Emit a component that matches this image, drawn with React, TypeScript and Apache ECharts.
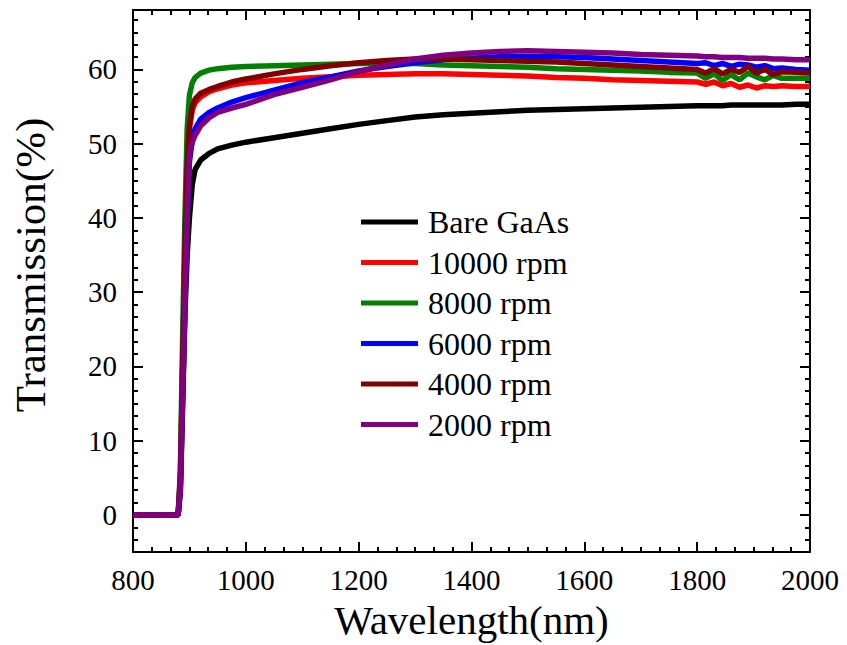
import React, { useEffect, useRef } from "react";
import * as echarts from "echarts";

const FONT = "'Liberation Serif', 'Times New Roman', serif";

const wavelengths = [
  800, 850, 880, 884, 888, 892, 896, 900, 905, 910, 920, 935, 950, 975, 1000,
  1050, 1100, 1150, 1200, 1250, 1300, 1350, 1400, 1450, 1500, 1550, 1600, 1650,
  1700, 1750, 1800, 1815, 1830, 1845, 1860, 1875, 1890, 1905, 1920, 1935, 1950,
  1975, 2000,
];

const seriesNames = ["Bare GaAs", "10000 rpm", "8000 rpm", "6000 rpm", "4000 rpm", "2000 rpm"];
const seriesColors = ["#000000", "#FF0000", "#008000", "#0000FF", "#800000", "#800080"];

const bareGaAs = [
  0, 0, 0, 3, 15, 27, 35, 40, 44.5, 46.5, 47.8, 48.7, 49.3, 49.8, 50.2,
  50.8, 51.4, 52.0, 52.6, 53.1, 53.6, 53.9, 54.1, 54.3, 54.5, 54.6, 54.7, 54.8,
  54.9, 55.0, 55.1, 55.1, 55.1, 55.1, 55.2, 55.2, 55.2, 55.2, 55.2, 55.2, 55.2,
  55.3, 55.3,
];
const rpm10000 = [
  0, 0, 0, 5, 20, 34, 46, 52, 54.5, 55.5, 56.3, 57.0, 57.4, 57.9, 58.2,
  58.5, 58.8, 59.0, 59.2, 59.3, 59.4, 59.4, 59.3, 59.2, 59.1, 58.9, 58.8, 58.6,
  58.5, 58.4, 58.3, 58.0, 58.3, 57.8, 58.1, 57.6, 57.9, 57.5, 57.8, 57.7, 57.8,
  57.7, 57.7,
];
const rpm8000 = [
  0, 0, 0, 6, 24, 40, 52, 56.5, 58.2, 58.9, 59.5, 59.9, 60.1, 60.3, 60.4,
  60.5, 60.6, 60.7, 60.8, 60.8, 60.8, 60.6, 60.5, 60.4, 60.3, 60.1, 60.0, 59.9,
  59.8, 59.6, 59.5, 58.8, 59.4, 58.5, 59.3, 58.6, 59.5, 59.0, 58.6, 59.2, 58.8,
  58.8, 58.8,
];
const rpm6000 = [
  0, 0, 0, 4, 16, 28, 40, 47.5, 50.5, 52.0, 53.3, 54.2, 54.8, 55.6, 56.2,
  57.2, 58.2, 59.0, 59.8, 60.4, 60.9, 61.3, 61.5, 61.7, 61.7, 61.7, 61.6, 61.4,
  61.2, 61.0, 60.8, 60.9, 60.5, 60.8, 60.4, 60.7, 60.6, 60.3, 60.5, 60.1, 60.2,
  60.0, 59.9,
];
const rpm4000 = [
  0, 0, 0, 5, 20, 35, 47, 52.5, 55.0, 56.0, 56.8, 57.3, 57.7, 58.3, 58.7,
  59.4, 60.0, 60.5, 60.9, 61.2, 61.4, 61.4, 61.3, 61.2, 61.1, 61.0, 60.8, 60.6,
  60.4, 60.2, 60.0, 59.5, 60.1, 59.4, 60.0, 59.6, 60.4, 59.5, 60.0, 59.3, 59.7,
  59.6, 59.5,
];
const rpm2000 = [
  0, 0, 0, 4, 16, 28, 40, 48.5, 50.2, 51.1, 52.4, 53.5, 54.2, 54.8, 55.3,
  56.6, 57.6, 58.6, 59.7, 60.6, 61.4, 61.9, 62.2, 62.4, 62.5, 62.4, 62.3, 62.2,
  62.0, 61.9, 61.8, 61.7, 61.7, 61.6, 61.6, 61.6, 61.5, 61.5, 61.5, 61.4, 61.4,
  61.3, 61.3,
];

const allValues = [bareGaAs, rpm10000, rpm8000, rpm6000, rpm4000, rpm2000];

const xTitle = "Wavelength(nm)";
const yTitle = "Transmission(%)";

export default function App() {
  const ref = useRef<HTMLDivElement>(null);

  useEffect(() => {
    if (!ref.current) return;
    const chart = echarts.init(ref.current, null, { renderer: "svg" });

    const axisLine = { show: true, onZero: false, lineStyle: { color: "#000", width: 2 } };
    const axisTick = { show: true, inside: true, length: 10, lineStyle: { color: "#000", width: 2 } };
    const minorTick = { show: true, splitNumber: 6, length: 5, lineStyle: { color: "#000", width: 2 } };
    const plain = (v: number) => String(Math.round(v));

    const xBase = {
      type: "value" as const,
      min: 800,
      max: 2000,
      interval: 200,
      axisLine,
      axisTick,
      minorTick,
      splitLine: { show: false },
      minorSplitLine: { show: false },
    };
    const yBase = {
      type: "value" as const,
      min: -5,
      max: 68,
      splitNumber: 7,
      axisLine,
      axisTick,
      minorTick,
      splitLine: { show: false },
      minorSplitLine: { show: false },
    };

    chart.setOption({
      animation: false,
      backgroundColor: "#fff",
      grid: { left: 133, right: 37, top: 10, bottom: 90, containLabel: false },
      xAxis: [
        {
          ...xBase,
          position: "bottom",
          axisLabel: { fontSize: 29, fontFamily: FONT, color: "#000", margin: 13, formatter: plain },
          name: xTitle,
          nameLocation: "middle",
          nameGap: 37,
          nameTextStyle: { fontSize: 41, fontFamily: FONT, color: "#000" },
        },
        { ...xBase, position: "top", axisLabel: { show: false } },
      ],
      yAxis: [
        {
          ...yBase,
          position: "left",
          axisLabel: {
            fontSize: 29,
            fontFamily: FONT,
            color: "#000",
            margin: 16,
            formatter: plain,
            showMinLabel: false,
            showMaxLabel: false,
          },
        },
        { ...yBase, position: "right", axisLabel: { show: false } },
      ],
      legend: {
        orient: "vertical",
        left: 361,
        top: 206,
        padding: 0,
        icon: "rect",
        itemWidth: 57,
        itemHeight: 5,
        itemGap: 8.5,
        textStyle: { fontSize: 32, lineHeight: 32, fontFamily: FONT, color: "#000", padding: [0, 0, 0, 5] },
        data: seriesNames,
      },
      graphic: [
        {
          type: "text",
          x: 30,
          y: 265,
          rotation: Math.PI / 2,
          style: {
            text: yTitle,
            fontSize: 43,
            fontFamily: FONT,
            fill: "#000",
            align: "center",
            verticalAlign: "middle",
            textAlign: "center",
            textVerticalAlign: "middle",
          },
        },
      ],
      series: seriesNames.map((name, i) => ({
        name,
        type: "line",
        showSymbol: false,
        symbol: "none",
        color: seriesColors[i],
        lineStyle: { width: 5.5, color: seriesColors[i] },
        data: wavelengths.map((w, j) => [w, allValues[i][j]]),
        z: 2 + i,
      })),
    });

    return () => chart.dispose();
  }, []);

  return (
    <div
      ref={ref}
      style={{ position: "fixed", left: 0, top: 0, width: 847, height: 645, background: "#fff" }}
    />
  );
}
